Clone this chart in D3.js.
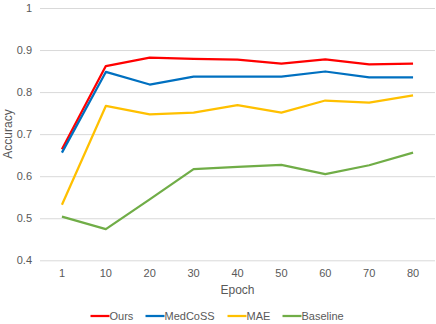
<!DOCTYPE html>
<html>
<head>
<meta charset="utf-8">
<script src="https://cdn.jsdelivr.net/npm/d3@7"></script>
<style>
  body { margin: 0; background: #fff; }
  text { font-family: "Liberation Sans", Arial, sans-serif; fill: #595959; }
</style>
</head>
<body>
<div id="chart"></div>
<script>
var width = 436;
var height = 324;

// epochs on x, accuracy on y
var epochs = ["1", "10", "20", "30", "40", "50", "60", "70", "80"];
var yTicks = [0.4, 0.5, 0.6, 0.7, 0.8, 0.9, 1];

var ours     = [0.664, 0.862, 0.882, 0.879, 0.877, 0.868, 0.878, 0.866, 0.868];
var medcoss  = [0.656, 0.848, 0.818, 0.837, 0.837, 0.837, 0.849, 0.835, 0.835];
var mae      = [0.532, 0.767, 0.747, 0.751, 0.769, 0.751, 0.780, 0.775, 0.792];
var baseline = [0.504, 0.474, 0.545, 0.617, 0.622, 0.627, 0.605, 0.626, 0.656];

var seriesNames = ["Ours", "MedCoSS", "MAE", "Baseline"];
var seriesColors = ["#FF0000", "#0070C0", "#FFC000", "#70AD47"];
var allSeries = [ours, medcoss, mae, baseline];

var svg = d3.select("#chart")
    .append("svg")
    .attr("width", width)
    .attr("height", height);

var x = d3.scaleBand().domain(epochs).range([40, 435]);
var y = d3.scaleLinear().domain([0.4, 1]).range([260.3, 8]);

/***** grid lines *****/
var yGrid = d3.axisLeft(y)
    .tickValues(yTicks)
    .tickSize(-(435 - 40))
    .tickFormat("");
var gridGroup = svg.append("g").attr("transform", "translate(40,0)");
yGrid(gridGroup);
gridGroup.select(".domain").remove();
gridGroup.selectAll("line").attr("stroke", "#d9d9d9").attr("stroke-width", 1);

/***** axes labels *****/
var yAxisGroup = svg.append("g").attr("transform", "translate(40,0)");
yAxisGroup.call(d3.axisLeft(y).tickValues(yTicks).tickSize(0).tickPadding(8)
    .tickFormat(function(d){ return d === 1 ? "1" : d3.format(".1f")(d); }));
yAxisGroup.select(".domain").remove();
yAxisGroup.selectAll("text")
    .attr("font-size", 11)
    .style("font-family", "Liberation Sans, Arial, sans-serif")
    .attr("fill", "#595959");

var xAxisGroup = svg.append("g").attr("transform", "translate(0,260.3)");
xAxisGroup.call(d3.axisBottom(x).tickSize(0).tickPadding(9));
xAxisGroup.select(".domain").remove();
xAxisGroup.selectAll("text")
    .attr("font-size", 11)
    .style("font-family", "Liberation Sans, Arial, sans-serif")
    .attr("fill", "#595959");

svg.append("text")
    .attr("x", 237.5)
    .attr("y", 294)
    .attr("text-anchor", "middle")
    .attr("font-size", 12)
    .text("Epoch");

svg.append("text")
    .attr("transform", "translate(12,134) rotate(-90)")
    .attr("text-anchor", "middle")
    .attr("font-size", 12)
    .text("Accuracy");

/***** lines *****/
var line = d3.line()
    .x(function(d, i){ return x(epochs[i]) + x.bandwidth() / 2; })
    .y(function(d){ return y(d); });

svg.append("g").selectAll("path")
    .data(allSeries)
    .enter()
    .append("path")
    .attr("d", line)
    .attr("fill", "none")
    .attr("stroke", function(d, i){ return seriesColors[i]; })
    .attr("stroke-width", 2.25)
    .attr("stroke-linejoin", "round");

/***** legend *****/
var legendX = [90.5, 145.5, 227.5, 282.5];
var legend = svg.append("g").selectAll("g")
    .data(seriesNames)
    .enter()
    .append("g")
    .attr("transform", function(d, i){ return "translate(" + legendX[i] + ",316)"; });
legend.append("line")
    .attr("x1", 0).attr("x2", 19)
    .attr("stroke", function(d, i){ return seriesColors[i]; })
    .attr("stroke-width", 2.25);
legend.append("text")
    .attr("x", 19)
    .attr("dy", "0.35em")
    .attr("font-size", 11)
    .text(function(d){ return d; });
</script>
</body>
</html>
